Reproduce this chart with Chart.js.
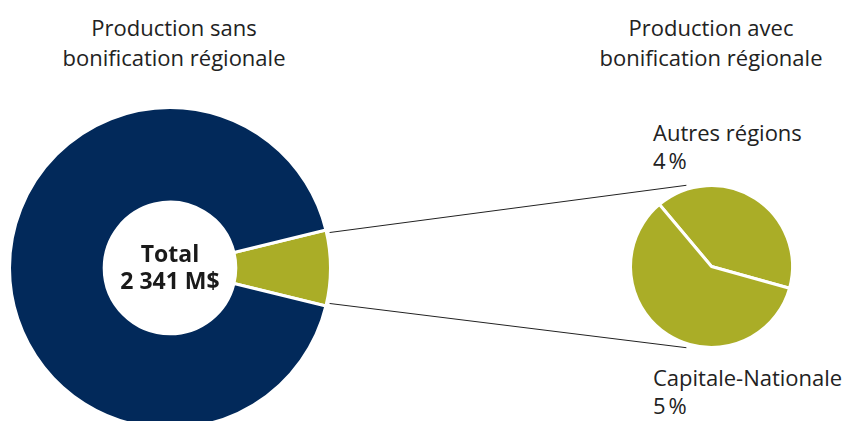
<!DOCTYPE html>
<html>
<head>
<meta charset="utf-8">
<script src="https://cdn.jsdelivr.net/npm/chart.js@4"></script>
<style>
    html, body { margin: 0; padding: 0; background: #fff; }
    #wrap { position: relative; width: 842px; height: 421px; overflow: hidden; font-family: "Open Sans", sans-serif; color: #222; }
    .title { position: absolute; width: 340px; text-align: center; font-size: 22px; font-weight: 400; line-height: 30px; }
    .lbl { position: absolute; left: 653px; font-size: 22px; font-weight: 400; line-height: 28px; color: #222; white-space: nowrap; }
    #left-chart { position: absolute; left: 8px; top: 106px; }
    #right-chart { position: absolute; left: 0; top: 0; }
</style>
</head>
<body>
<div id="wrap">
    <div class="title" style="left: 4px; top: 12px;">Production sans<br>bonification régionale</div>
    <div class="title" style="left: 541px; top: 12px;">Production avec<br>bonification régionale</div>
    <div class="lbl" style="top: 118px;">Autres régions<br>4&#8239;%</div>
    <div class="lbl" style="top: 363px;">Capitale-Nationale<br>5&#8239;%</div>
    <canvas id="left-chart" width="324" height="324" style="width:324px;height:324px;"></canvas>
    <canvas id="right-chart" width="842" height="421" style="width:842px;height:421px;"></canvas>
</div>
<script>
    // left donut : share of total production (%)
    const leftLabels = ['Avec bonification', 'Sans bonification'];
    const leftValues = [7.6, 92.4];
    const leftColors = ['#aaad27', '#02295a'];

    // right pie : split of the regional bonus (%)
    const rightLabels = ['Autres régions', 'Capitale-Nationale'];
    const rightValues = [3.6, 5.3];
    const rightColors = ['#aaad27', '#aaad27'];

    const totalText = ['Total', '2 341 M$'];

    const centerText = {
        id: 'centerText',
        afterDraw(chart) {
            const arc = chart.getDatasetMeta(0).data[0];
            const ctx = chart.ctx;
            ctx.save();
            ctx.font = 'bold 23px "Open Sans", sans-serif';
            ctx.fillStyle = '#1a1a1a';
            ctx.textAlign = 'center';
            ctx.textBaseline = 'middle';
            ctx.fillText(totalText[0], arc.x, arc.y - 13);
            ctx.fillText(totalText[1], arc.x, arc.y + 14);
            ctx.restore();
        }
    };

    const leftChart = new Chart(document.getElementById('left-chart'), {
        type: 'doughnut',
        data: { labels: leftLabels, datasets: [{ data: leftValues, backgroundColor: leftColors, borderColor: '#fff', borderWidth: 3 }] },
        options: {
            responsive: false,
            animation: false,
            cutout: '41%',
            rotation: 90 - leftValues[0] / 100 * 180,
            plugins: { legend: { display: false }, tooltip: { enabled: false } }
        },
        plugins: [centerText]
    });

    // lines from the left wedge to the right pie
    const connectors = {
        id: 'connectors',
        afterDraw(chart) {
            const src = leftChart.getDatasetMeta(0).data[0];
            const dst = chart.getDatasetMeta(0).data[0];
            const ox = 8, oy = 106;
            const sx = ox + src.x, sy = oy + src.y, sr = src.outerRadius + 3;
            const dr = dst.outerRadius + 4;
            const a1 = src.startAngle + 0.02, a2 = src.endAngle - 0.02;
            const b1 = -Math.PI / 2 - 0.3, b2 = Math.PI / 2 + 0.3;
            const ctx = chart.ctx;
            ctx.save();
            ctx.strokeStyle = '#222';
            ctx.lineWidth = 1;
            ctx.beginPath();
            ctx.moveTo(sx + sr * Math.cos(a1), sy + sr * Math.sin(a1));
            ctx.lineTo(dst.x + dr * Math.cos(b1), dst.y + dr * Math.sin(b1));
            ctx.moveTo(sx + sr * Math.cos(a2), sy + sr * Math.sin(a2));
            ctx.lineTo(dst.x + dr * Math.cos(b2), dst.y + dr * Math.sin(b2));
            ctx.stroke();
            ctx.restore();
        }
    };

    const rightChart = new Chart(document.getElementById('right-chart'), {
        type: 'pie',
        data: { labels: rightLabels, datasets: [{ data: rightValues, backgroundColor: rightColors, borderColor: '#fff', borderWidth: 3 }] },
        options: {
            responsive: false,
            animation: false,
            rotation: -40,
            layout: { padding: { left: 629, right: 48, top: 184, bottom: 72 } },
            plugins: { legend: { display: false }, tooltip: { enabled: false } }
        },
        plugins: [connectors]
    });
</script>
</body>
</html>
